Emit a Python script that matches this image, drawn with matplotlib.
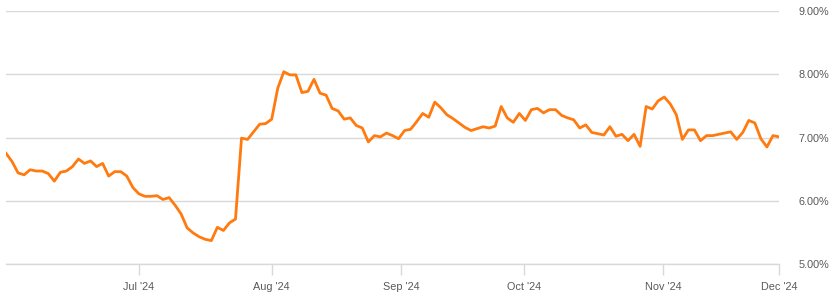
"""Daily rate line, Jun-Dec 2024, with right-hand percent axis."""
import matplotlib.pyplot as plt
from matplotlib.ticker import FuncFormatter

# one value per trading day (percent)
rates = [
    6.75, 6.62, 6.44, 6.41, 6.49, 6.47, 6.47, 6.43, 6.31, 6.45,
    6.47, 6.54, 6.66, 6.59, 6.63, 6.54, 6.59, 6.39, 6.46, 6.46,
    6.39, 6.21, 6.11, 6.07, 6.07, 6.08, 6.02, 6.05, 5.93, 5.79,
    5.57, 5.49, 5.43, 5.39, 5.37, 5.58, 5.53, 5.65, 5.71, 6.99,
    6.97, 7.09, 7.21, 7.22, 7.29, 7.78, 8.04, 7.99, 7.99, 7.71,
    7.73, 7.92, 7.70, 7.67, 7.46, 7.42, 7.29, 7.31, 7.19, 7.15,
    6.93, 7.03, 7.01, 7.07, 7.03, 6.98, 7.11, 7.13, 7.25, 7.38,
    7.32, 7.56, 7.47, 7.36, 7.30, 7.23, 7.16, 7.11, 7.14, 7.17,
    7.15, 7.18, 7.49, 7.31, 7.24, 7.38, 7.27, 7.44, 7.46, 7.39,
    7.44, 7.44, 7.35, 7.31, 7.28, 7.15, 7.20, 7.08, 7.06, 7.04,
    7.17, 7.02, 7.05, 6.95, 7.05, 6.86, 7.49, 7.45, 7.58, 7.64,
    7.53, 7.36, 6.97, 7.12, 7.12, 6.95, 7.03, 7.03, 7.05, 7.07,
    7.09, 6.97, 7.08, 7.27, 7.23, 6.98, 6.85, 7.03, 7.01,
]

# first trading day of each month, as position in the series
month_pos = [22, 44, 65.4, 85.8, 108.8, 128]
month_labels = ["Jul '24", "Aug '24", "Sep '24", "Oct '24", "Nov '24", "Dec '24"]

y_ticks = [5, 6, 7, 8, 9]

LINE = "#ff7a0f"
GRID = "#d9d9d9"
TEXT = "#595959"

plt.rcParams["font.family"] = ["Liberation Sans", "DejaVu Sans"]

fig = plt.figure(figsize=(8.35, 3.02), dpi=100)
ax = fig.add_axes([6 / 835, 38 / 302, 773 / 835, 253 / 302])

ax.plot(range(len(rates)), rates, color=LINE, lw=2.0, solid_joinstyle="round", zorder=3)

ax.set_xlim(0, len(rates) - 1)
ax.set_ylim(5, 9)
ax.set_yticks(y_ticks)
ax.yaxis.set_major_formatter(FuncFormatter(lambda v, _: f"{v:.2f}%"))
ax.yaxis.tick_right()
ax.tick_params(axis="y", length=0, pad=14, labelsize=7.8, labelcolor=TEXT)
ax.grid(axis="y", color=GRID, lw=1.0)

ax.set_xticks(month_pos)
ax.set_xticklabels(month_labels)
ax.tick_params(axis="x", length=8, width=1.0, color=GRID, pad=5, labelsize=7.8, labelcolor=TEXT)

for side in ["top", "left", "right"]:
    ax.spines[side].set_visible(False)
ax.spines["bottom"].set_color(GRID)
ax.spines["bottom"].set_linewidth(1.0)

fig.savefig("out.png", dpi=100)
